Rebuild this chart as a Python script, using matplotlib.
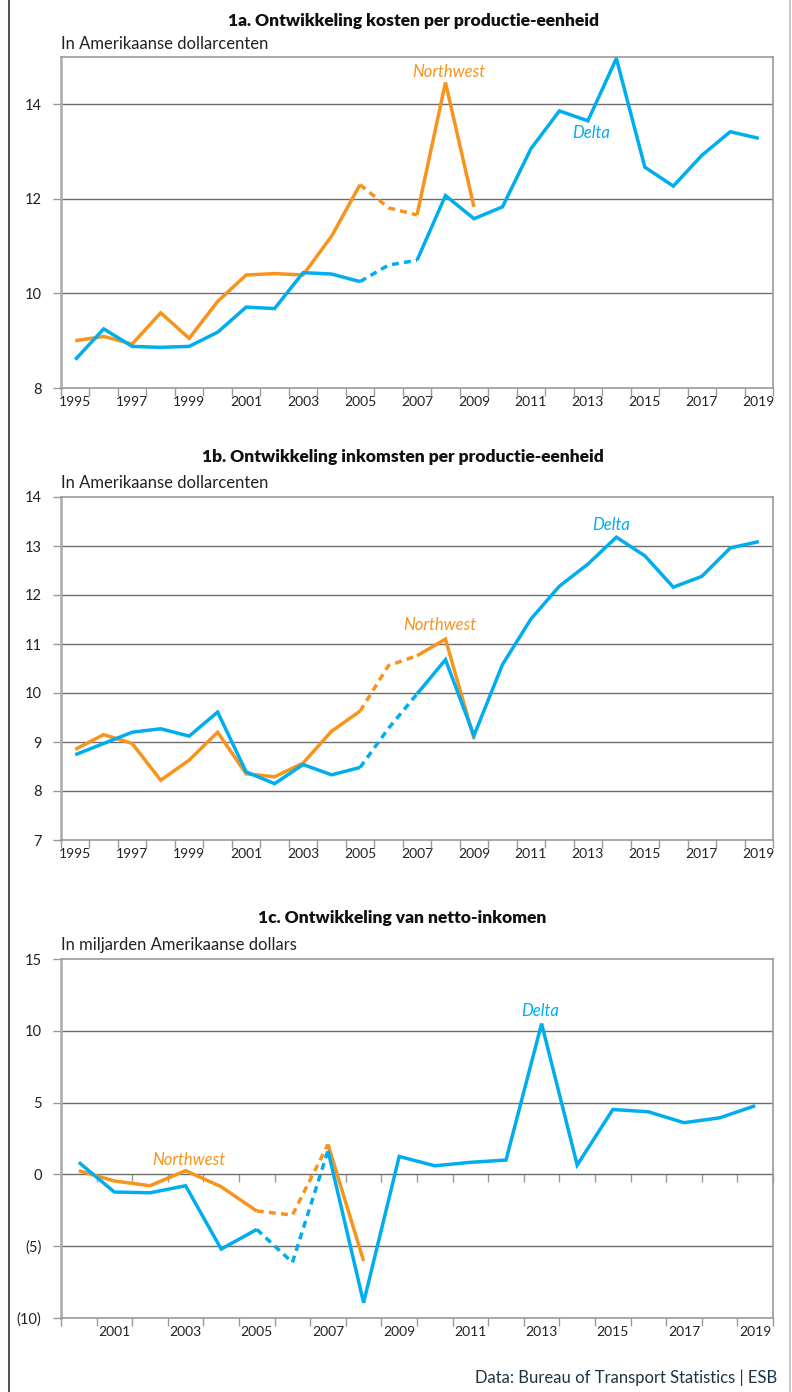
import numpy as np
import matplotlib
matplotlib.use("Agg")
import matplotlib.pyplot as plt
from matplotlib.lines import Line2D

# --- data -------------------------------------------------------------
years_ab = list(range(1995, 2020))
delta_cost = [8.60, 9.25, 8.88, 8.86, 8.88, 9.18, 9.71, 9.68, 10.44, 10.41, 10.25,
              10.60, 10.70, 12.07, 11.58, 11.83, 13.06, 13.86, 13.65, 14.97, 12.67,
              12.27, 12.92, 13.42, 13.28]
nw_cost = [9.00, 9.09, 8.93, 9.59, 9.05, 9.83, 10.39, 10.42, 10.39, 11.21, 12.30,
           11.81, 11.66, 14.46, 11.83]

delta_rev = [8.74, 8.97, 9.20, 9.27, 9.12, 9.61, 8.39, 8.15, 8.54, 8.33, 8.48,
             9.28, 9.98, 10.68, 9.13, 10.58, 11.51, 12.18, 12.63, 13.18, 12.80,
             12.16, 12.38, 12.96, 13.09]
nw_rev = [8.85, 9.15, 8.97, 8.22, 8.63, 9.20, 8.35, 8.29, 8.57, 9.22, 9.63,
          10.56, 10.76, 11.10, 9.07]

years_c = list(range(2000, 2020))
delta_net = [0.84, -1.23, -1.28, -0.79, -5.20, -3.83, -6.13, 1.65, -8.93, 1.25,
             0.60, 0.84, 1.00, 10.50, 0.65, 4.52, 4.36, 3.60, 3.94, 4.78]
nw_net = [0.26, -0.46, -0.79, 0.26, -0.86, -2.55, -2.83, 2.09, -6.03]

dash_start, dash_end = 2005, 2007   # estimated years drawn dashed

ORANGE = "#f7941d"
BLUE = "#00aeef"
GRID = "#6d6d6d"
FONT = "Lato"

plt.rcParams['font.family'] = [FONT, 'DejaVu Sans']

W, H = 792, 1392
fig = plt.figure(figsize=(W / 100, H / 100), dpi=100)


def fx(px):
    return px / W


def fy(py):
    return 1 - py / H


def draw_series(ax, years, vals, color):
    yrs = np.array(years[:len(vals)])
    v = np.array(vals)
    kw = dict(color=color, lw=2.5, solid_joinstyle='miter', solid_capstyle='butt')
    m1 = yrs <= dash_start
    m2 = (yrs >= dash_start) & (yrs <= dash_end)
    m3 = yrs >= dash_end
    ax.plot(yrs[m1], v[m1], **kw)
    ax.plot(yrs[m2], v[m2], ls=(0, (2.0, 1.5)), **kw)
    ax.plot(yrs[m3], v[m3], **kw)


def setup(ax, years, ylim, yticks, ylabels, label_years):
    ax.set_xlim(years[0] - 0.5, years[-1] + 0.5)
    ax.set_ylim(*ylim)
    ax.set_yticks(yticks)
    ax.set_yticklabels(ylabels)
    ax.tick_params(axis='y', length=6, width=1, color="#999999", labelsize=10.5,
                   pad=8, labelcolor="#222222")
    ax.set_xticks(label_years)
    ax.set_xticklabels([str(y) for y in label_years])
    ax.set_xticks([y - 0.5 for y in years] + [years[-1] + 0.5], minor=True)
    ax.tick_params(axis='x', which='major', length=0, labelsize=10, pad=6,
                   labelcolor="#222222")
    ax.tick_params(axis='x', which='minor', length=6, width=1, color="#999999")
    for y in yticks[1:-1]:
        ax.axhline(y, color=GRID, lw=1.0, zorder=1)
    ax.spines['left'].set_color("#aaaaaa")
    ax.spines['left'].set_linewidth(1.8)
    for s in ['top', 'right', 'bottom']:
        ax.spines[s].set_color("#999999")
        ax.spines[s].set_linewidth(1.2)


def headings(title, tx, ty, subtitle, sy):
    fig.text(fx(tx), fy(ty), title, ha='center', va='center', fontsize=12.5,
             fontweight='heavy', color="#111111")
    fig.text(fx(61), fy(sy), subtitle, ha='left', va='center', fontsize=12,
             color="#222222")


# --- panel 1a ---------------------------------------------------------
axA = fig.add_axes([fx(61), fy(388), fx(773 - 61), (388 - 57) / H])
setup(axA, years_ab, (8, 15), [8, 10, 12, 14, 15], ["8", "10", "12", "14", ""],
      list(range(1995, 2020, 2)))
axA.yaxis.get_major_ticks()[-1].tick1line.set_visible(False)
draw_series(axA, years_ab, nw_cost, ORANGE)
draw_series(axA, years_ab, delta_cost, BLUE)
axA.text(2008.1, 14.69, "Northwest", color=ORANGE, style='italic', fontsize=12,
         ha='center', va='center')
axA.text(2013.1, 13.39, "Delta", color=BLUE, style='italic', fontsize=12,
         ha='center', va='center')
headings("1a. Ontwikkeling kosten per productie-eenheid", 414, 21,
         "In Amerikaanse dollarcenten", 44)

# --- panel 1b ---------------------------------------------------------
axB = fig.add_axes([fx(61), fy(840), fx(773 - 61), (840 - 497) / H])
setup(axB, years_ab, (7, 14), list(range(7, 15)), [str(v) for v in range(7, 15)],
      list(range(1995, 2020, 2)))
draw_series(axB, years_ab, nw_rev, ORANGE)
draw_series(axB, years_ab, delta_rev, BLUE)
axB.text(2007.8, 11.39, "Northwest", color=ORANGE, style='italic', fontsize=12,
         ha='center', va='center')
axB.text(2013.8, 13.43, "Delta", color=BLUE, style='italic', fontsize=12,
         ha='center', va='center')
headings("1b. Ontwikkeling inkomsten per productie-eenheid", 403, 457,
         "In Amerikaanse dollarcenten", 483)

# --- panel 1c ---------------------------------------------------------
axC = fig.add_axes([fx(61), fy(1318), fx(773 - 61), (1318 - 959) / H])
setup(axC, years_c, (-10, 15), [-10, -5, 0, 5, 10, 15],
      ["(10)", "(5)", "0", "5", "10", "15"], list(range(2001, 2020, 2)))
# tick marks hanging from the zero line
sec = axC.secondary_xaxis(10 / 25)
sec.set_xticks([])
sec.set_xticks([y - 0.5 for y in years_c] + [years_c[-1] + 0.5], minor=True)
sec.tick_params(axis='x', which='minor', length=6, width=1, color="#999999",
                direction='out')
sec.spines['bottom'].set_visible(False)
sec.spines['top'].set_visible(False)
draw_series(axC, years_c, nw_net, ORANGE)
draw_series(axC, years_c, delta_net, BLUE)
axC.text(2003.1, 0.97, "Northwest", color=ORANGE, style='italic', fontsize=12,
         ha='center', va='center')
axC.text(2012.95, 11.35, "Delta", color=BLUE, style='italic', fontsize=12,
         ha='center', va='center')
headings("1c. Ontwikkeling van netto-inkomen", 402, 918,
         "In miljarden Amerikaanse dollars", 945)

# --- source and frame -------------------------------------------------
fig.text(fx(777), fy(1378), "Data: Bureau of Transport Statistics | ESB",
         ha='right', va='center', fontsize=12, color="#1f3440")
fig.add_artist(Line2D([fx(9), fx(9)], [0, 1], color="#333333", lw=1.2))
fig.add_artist(Line2D([fx(790), fx(790)], [0, 1], color="#bbbbbb", lw=1.2))

fig.savefig("out.png", dpi=100, facecolor="white")
